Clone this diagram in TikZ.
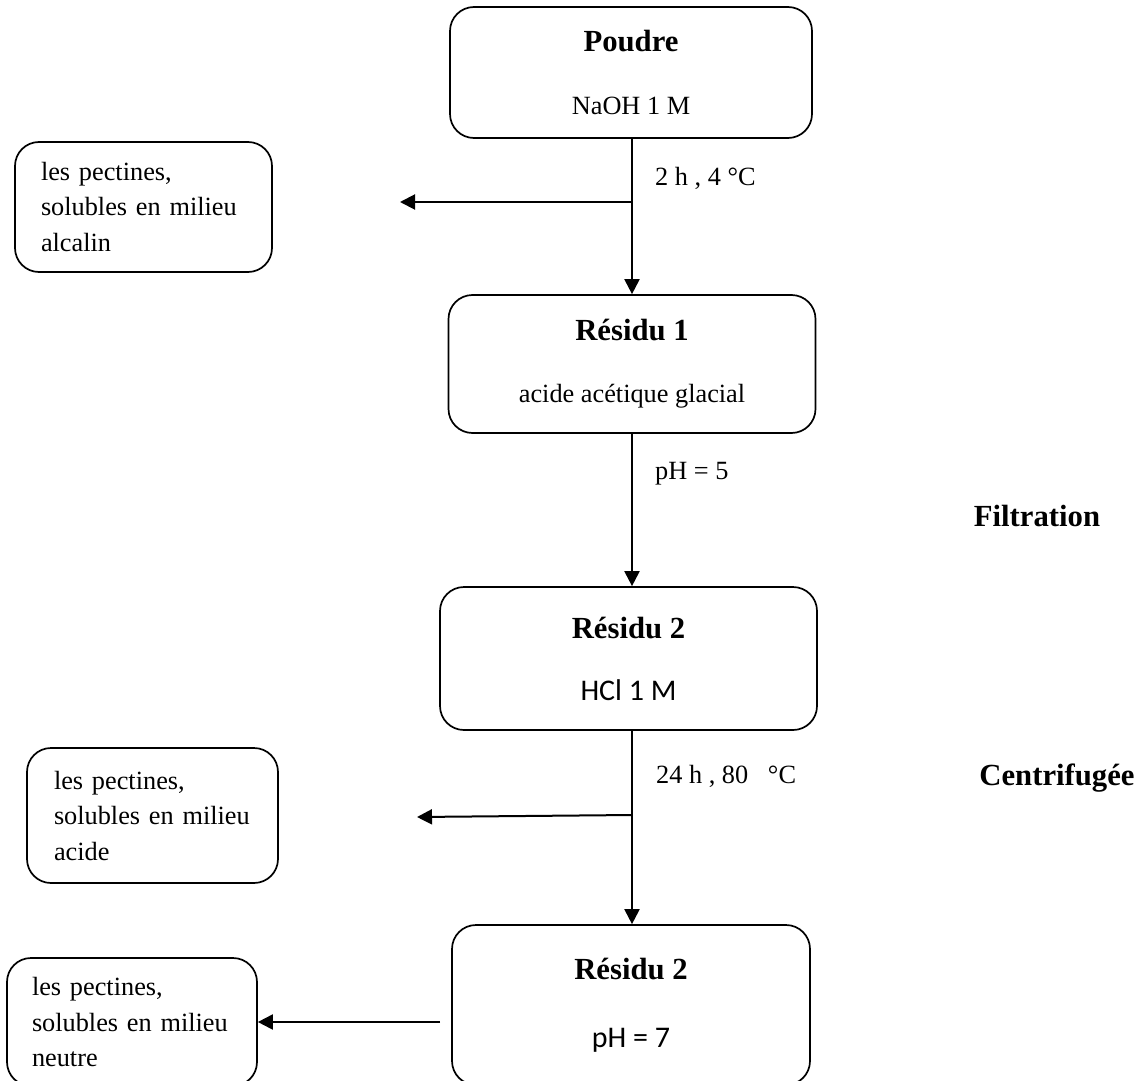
\documentclass[tikz,border=0pt]{standalone}
\usepackage{fontspec}
\setmainfont{Liberation Serif}
\newfontfamily\calib{Carlito}
\usetikzlibrary{arrows.meta}

\tikzset{
  flow/.style={line width=2pt, -{Triangle[length=15pt,width=15pt]}},
  mainbox/.style={draw, line width=1.7pt, rounded corners=24pt, align=center,
    inner sep=0pt, font=\fontsize{26.3}{36}\selectfont},
  sidebox/.style={draw, line width=1.7pt, rounded corners=24pt, align=left,
    inner ysep=0pt, font=\fontsize{26.3}{35.5}\selectfont},
  steplabel/.style={anchor=west, inner sep=0pt, font=\fontsize{26.3}{30}\selectfont},
  opname/.style={inner sep=0pt, font=\fontsize{30.7}{34}\selectfont\bfseries},
}
\newcommand{\boxtitle}[1]{{\fontsize{30.7}{36}\selectfont\bfseries #1}}

\begin{document}
\begin{tikzpicture}[x=1pt, y=-1pt]
  \useasboundingbox (0,0) rectangle (1143,1081);

  % main column of residues
  \node[mainbox, minimum width=362pt, minimum height=131pt] (poudre) at (631,72.5)
    {\boxtitle{Poudre}\\[27pt]NaOH 1 M};
  \node[mainbox, minimum width=367pt, minimum height=138pt] (res1) at (632,364)
    {\boxtitle{Résidu 1}\\[26pt]acide acétique glacial};
  \node[mainbox, minimum width=377pt, minimum height=143pt] (res2) at (628.5,658.5)
    {\boxtitle{Résidu 2}\\[26pt]{\calib\fontsize{30}{36}\selectfont HCl 1 M}};
  \node[mainbox, minimum width=358pt, minimum height=160pt] (res3) at (631,1005)
    {\boxtitle{Résidu 2}\\[32pt]{\calib\fontsize{30}{36}\selectfont pH = 7}};

  % extracted pectin fractions
  \node[sidebox, text width=205pt, inner xsep=26pt, minimum height=130pt] (alcalin) at (143.5,207)
    {les pectines,\\solubles en milieu\\alcalin};
  \node[sidebox, text width=197pt, inner xsep=27pt, minimum height=135pt] (acide) at (152.5,815.5)
    {les pectines,\\solubles en milieu\\acide};
  \node[sidebox, text width=200pt, inner xsep=25pt, minimum height=128pt] (neutre) at (132,1022)
    {les pectines,\\solubles en milieu\\neutre};

  % branch points and free arrow ends
  \coordinate (b1) at (632,202);
  \coordinate (t1) at (400,202);
  \coordinate (b2) at (632,815);
  \coordinate (t2) at (417,817);
  \coordinate (s3) at (440,1022);

  % connectors
  \draw[flow] (poudre.south -| b1) -- (res1.north -| b1);
  \draw[flow] (b1) -- (t1);
  \draw[flow] (res1.south -| b1) -- (res2.north -| b1);
  \draw[flow] (res2.south -| b1) -- (res3.north -| b1);
  \draw[flow] (b2) -- (t2);
  \draw[flow] (s3) -- (neutre.east);

  % conditions along the arrows
  \node[steplabel] (c1) at (655,178) {2 h , 4 °C};
  \node[steplabel] (c2) at (655,474) {pH = 5};
  \node[steplabel] (c3) at (656,776) {24 h , 80 \ \ °C};

  % operations
  \node[opname] (filt) at (1037,516) {Filtration};
  \node[opname] (centri) at (1057,778) {Centrifugée};
\end{tikzpicture}
\end{document}
